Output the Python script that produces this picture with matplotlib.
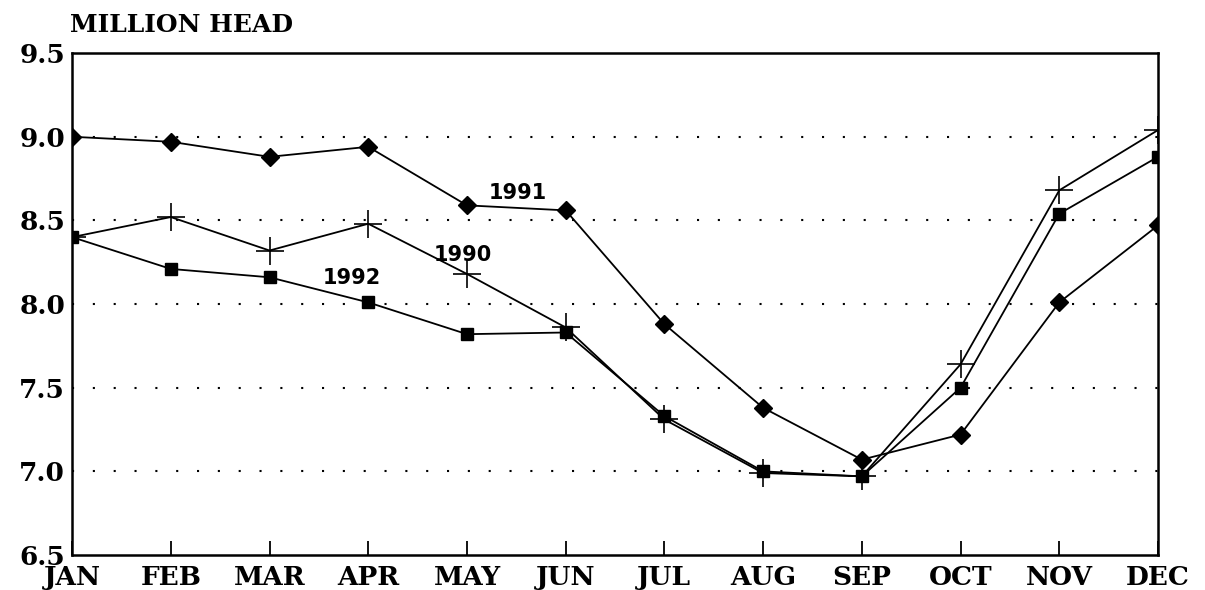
import matplotlib
matplotlib.use("Agg")
import matplotlib.pyplot as plt

# месяцы и значения (млн голов)
months = ['JAN', 'FEB', 'MAR', 'APR', 'MAY', 'JUN',
          'JUL', 'AUG', 'SEP', 'OCT', 'NOV', 'DEC']
y1990 = [8.40, 8.52, 8.32, 8.48, 8.18, 7.86, 7.31, 6.99, 6.97, 7.64, 8.68, 9.04]
y1991 = [9.00, 8.97, 8.88, 8.94, 8.59, 8.56, 7.88, 7.38, 7.07, 7.22, 8.01, 8.47]
y1992 = [8.40, 8.21, 8.16, 8.01, 7.82, 7.83, 7.33, 7.00, 6.97, 7.50, 8.54, 8.88]
yticks = [6.5, 7.0, 7.5, 8.0, 8.5, 9.0, 9.5]

serif = 'DejaVu Serif'
sans = 'DejaVu Sans'

fig = plt.figure(figsize=(12.05, 5.9), dpi=100)
ax = fig.add_axes([0.0598, 0.0593, 0.9012, 0.8507])

x = list(range(len(months)))
ax.plot(x, y1991, color='black', lw=1.3, marker='D', ms=9)
ax.plot(x, y1990, color='black', lw=1.3, marker='+', ms=20, mew=1.2)
ax.plot(x, y1992, color='black', lw=1.3, marker='s', ms=8)

# подписи серий
ax.text(4.22, 8.63, '1991', fontsize=15, fontweight='bold', family=sans)
ax.text(3.66, 8.26, '1990', fontsize=15, fontweight='bold', family=sans)
ax.text(2.54, 8.12, '1992', fontsize=15, fontweight='bold', family=sans)

ax.set_xlim(0, 11)
ax.set_ylim(6.5, 9.5)
ax.set_xticks(x)
ax.set_xticklabels(months, fontsize=19, fontweight='bold', family=serif)
ax.set_yticks(yticks)
ax.set_yticklabels(['%.1f' % v for v in yticks], fontsize=19,
                   fontweight='bold', family=serif)
ax.tick_params(axis='x', direction='in', length=10, width=1.3, pad=7)
ax.tick_params(axis='y', length=0, pad=5)

# пунктирная сетка
for v in yticks[1:-1]:
    ax.axhline(v, color='black', lw=1.5, ls=(0, (1, 9)))

for s in ax.spines.values():
    s.set_linewidth(1.8)

fig.text(0.058, 0.945, 'MILLION HEAD', fontsize=18, fontweight='bold',
         family=serif)

fig.savefig('out.png', dpi=100)
